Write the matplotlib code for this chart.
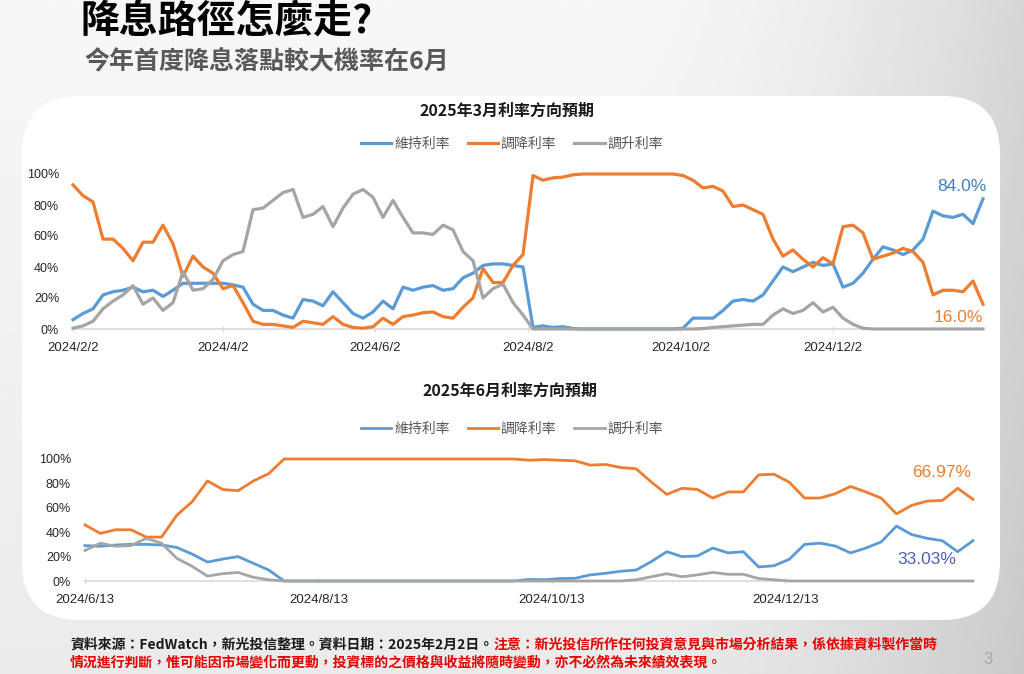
import matplotlib.pyplot as plt
from matplotlib.patches import FancyBboxPatch
import numpy as np
import pandas as pd

#%% DATOS
# 2025年3月 會議 (每4天一點, 2024/2/2 ~ 2025/1/31)
mar_dates = pd.date_range('2024-02-02', periods=92, freq='4D')
mar_hold = [6, 10, 13, 22, 24, 25, 27, 24, 25, 21, 25, 29.5, 29.5, 29.5, 29.5, 29.5, 28.5, 27, 16, 12,
            12, 9, 7, 19, 18, 15, 24, 17, 10, 7, 11,
            18, 13, 27, 25, 27, 28, 25, 26, 33, 36, 41, 42, 42, 41, 40, 1, 2, 1, 1.5, 0.3,
            0, 0, 0, 0, 0, 0, 0, 0, 0, 0, 0.5,
            7, 7, 7, 12, 18, 19, 18, 22, 31, 40, 37, 40, 43, 41, 42, 27, 29.5, 36, 45, 53,
            51, 48, 51, 58, 76, 73, 72, 74, 68, 84.0]
mar_cut = [93, 86, 82, 58, 58, 52, 44, 56, 56, 67, 55, 34, 47, 40, 36, 26, 28, 17, 5, 3,
           3, 2, 1, 5, 4, 3, 8, 3, 1, 0.5, 1.5,
           7, 3, 8, 9, 10.5, 11, 8, 7, 14, 20, 39, 30, 30, 41, 48, 99, 96, 97.5, 98, 99.5,
           100, 100, 100, 100, 100, 100, 100, 100, 100, 100, 99,
           96, 91, 92, 89, 79, 80, 77, 74, 58, 47, 51, 45, 40, 46, 42, 66, 67, 62, 45, 47,
           49, 52, 50, 43, 22, 25, 25, 24, 31, 16.0]
mar_hike = [0.5, 2, 5, 13, 18, 22, 28, 16, 20, 12, 17, 37, 25, 26, 32, 44, 48, 50, 77, 78,
            83, 88, 90, 72, 74, 79, 66, 78, 87, 90, 85,
            72, 83, 72, 62, 62, 61, 67, 64, 50, 44, 20, 26, 29, 17, 9,
            0, 0, 0, 0, 0, 0, 0, 0, 0, 0, 0, 0, 0, 0, 0, 0,
            0, 0.3, 1, 1.5, 2, 2.5, 3, 3, 9, 13, 10, 12, 17, 11, 14, 7, 3, 0.5,
            0, 0, 0, 0, 0, 0, 0, 0, 0, 0, 0, 0]
mar_tick_dates = ['2024-02-02', '2024-04-02', '2024-06-02', '2024-08-02', '2024-10-02', '2024-12-02']
mar_tick_labels = ['2024/2/2', '2024/4/2', '2024/6/2', '2024/8/2', '2024/10/2', '2024/12/2']

# 2025年6月 會議 (每4天一點, 2024/6/13 ~ 2025/1/31)
jun_dates = pd.date_range('2024-06-13', periods=59, freq='4D')
jun_hold = [29, 28.5, 29.5, 30, 30, 29.5, 27.5, 22, 15.5, 18, 20, 14.5, 9,
            0, 0, 0, 0, 0, 0, 0, 0, 0, 0, 0, 0, 0, 0, 0, 0,
            1.3, 1, 2, 2.2, 5, 6.3, 8, 9, 16, 24,
            20, 20.5, 27, 23, 24, 11.5, 12.5, 17.8, 30, 31, 28.7, 23, 27, 32, 45, 38,
            35, 33, 24, 33.03]
jun_cut = [46, 39, 42, 42, 36, 36, 54, 65, 82, 75, 74, 82, 88,
           100, 100, 100, 100, 100, 100, 100, 100, 100, 100, 100, 100, 100, 100, 100, 100,
           99, 99.5, 99, 98.5, 95, 95.5, 93, 92, 81, 71,
           76, 75, 68, 73, 73, 87, 87.5, 81, 68, 68, 71.5, 77.5, 73, 68, 55, 62,
           65.5, 66, 76, 66.97]
jun_hike = [25, 31, 28.5, 29, 35, 31, 18.5, 12, 4, 6, 7, 3, 1,
            0, 0, 0, 0, 0, 0, 0, 0, 0, 0, 0, 0, 0, 0, 0, 0, 0, 0, 0, 0, 0, 0, 0,
            1, 3.5, 6,
            3.5, 5, 7, 5.5, 5.5, 2, 1,
            0, 0, 0, 0, 0, 0, 0, 0, 0, 0, 0, 0, 0]
jun_tick_dates = ['2024-06-13', '2024-08-13', '2024-10-13', '2024-12-13']
jun_tick_labels = ['2024/6/13', '2024/8/13', '2024/10/13', '2024/12/13']

y_ticks = [0, 20, 40, 60, 80, 100]
y_labels = ['0%', '20%', '40%', '60%', '80%', '100%']
series_names = ['維持利率', '調降利率', '調升利率']
colors = ['#5B9BD5', '#ED7D31', '#A5A5A5']

#%% FIGURA
plt.rcParams['font.family'] = ['Noto Sans CJK TC', 'DejaVu Sans']
W, H = 1024, 674
fig = plt.figure(figsize=(W / 100, H / 100), dpi=100)

# fondo de la diapositiva
bg = fig.add_axes([0, 0, 1, 1])
bg.set_xlim(0, W)
bg.set_ylim(H, 0)
bg.axis('off')
xx, yy = np.meshgrid(np.linspace(0, 1, 300), np.linspace(0, 1, 300))
shade = 0.97 - 0.05 * yy - 0.13 * np.clip((xx - 0.6) / 0.4, 0, 1) ** 1.6
bg.imshow(shade, cmap='gray', vmin=0, vmax=1, extent=(0, W, H, 0), aspect='auto', zorder=0)
bg.add_patch(FancyBboxPatch((22, 96), 978, 524, boxstyle='round,pad=0,rounding_size=58',
                            facecolor='white', edgecolor='none', zorder=1))

bg.text(80, 21, '降息路徑怎麼走?', fontsize=28, fontweight='bold', color='black',
        ha='left', va='center', zorder=2)
bg.text(84, 62, '今年首度降息落點較大機率在6月', fontsize=18, fontweight='bold', color='#595959',
        ha='left', va='center', zorder=2)
bg.text(507, 111, '2025年3月利率方向預期', fontsize=11.5, fontweight='bold', color='#1a1a1a',
        ha='center', va='center', zorder=2)
bg.text(510, 391, '2025年6月利率方向預期', fontsize=11.5, fontweight='bold', color='#1a1a1a',
        ha='center', va='center', zorder=2)


def px_axes(l, t, r, b):
    return fig.add_axes([l / W, 1 - b / H, (r - l) / W, (b - t) / H])


def dibujar(ax, dates, series, tick_dates, tick_labels, lw, legend_y):
    lines = []
    for vals, c, name in zip(series, colors, series_names):
        ln, = ax.plot(dates, vals, color=c, lw=lw, label=name, clip_on=False,
                      solid_joinstyle='round')
        lines.append(ln)
    ax.set_xlim(dates[0], dates[-1])
    ax.set_ylim(0, 100)
    ax.set_yticks(y_ticks, labels=y_labels)
    ax.set_xticks(pd.to_datetime(tick_dates), labels=tick_labels)
    for s in ['top', 'right', 'left']:
        ax.spines[s].set_visible(False)
    ax.spines['bottom'].set_color('#d9d9d9')
    ax.spines['bottom'].set_linewidth(1.2)
    ax.spines['bottom'].set_zorder(0)
    ax.tick_params(axis='y', length=0, pad=10, labelsize=9, labelcolor='#262626',
                   labelfontfamily='Liberation Sans')
    ax.tick_params(axis='x', length=5, direction='inout', color='#d9d9d9', pad=7,
                   labelsize=9.5, labelcolor='#262626', labelfontfamily='Liberation Sans')
    ax.patch.set_alpha(0)
    ax.legend(handles=lines, loc='center', bbox_to_anchor=(512 / W, 1 - legend_y / H),
              bbox_transform=fig.transFigure, ncol=3, frameon=False, fontsize=10,
              labelcolor='#595959', handlelength=2.2, handletextpad=0.2, columnspacing=1.3)
    return lines


ax1 = px_axes(73, 174, 983, 329)
dibujar(ax1, mar_dates, [mar_hold, mar_cut, mar_hike], mar_tick_dates, mar_tick_labels, 2.3, 144)
ax1.annotate(f'{mar_hold[-1]:.1f}%', xy=(mar_dates[-1], mar_hold[-1]), xytext=(-21, 12),
             textcoords='offset pixels', ha='center', va='center', fontsize=12.5,
             color='#3f7fc0', family='Liberation Sans')
ax1.annotate(f'{mar_cut[-1]:.1f}%', xy=(mar_dates[-1], mar_cut[-1]), xytext=(-25, -13),
             textcoords='offset pixels', ha='center', va='center', fontsize=12.5,
             color='#ED7D31', family='Liberation Sans')

ax2 = px_axes(85, 459, 973, 581)
dibujar(ax2, jun_dates, [jun_hold, jun_cut, jun_hike], jun_tick_dates, jun_tick_labels, 2.0, 429)
ax2.annotate(f'{jun_cut[-1]:.2f}%', xy=(jun_dates[-1], jun_cut[-1]), xytext=(-31, 27),
             textcoords='offset pixels', ha='center', va='center', fontsize=12.5,
             color='#ED7D31', family='Liberation Sans')
ax2.annotate(f'{jun_hold[-1]:.2f}%', xy=(jun_dates[-1], jun_hold[-1]), xytext=(-46, -19),
             textcoords='offset pixels', ha='center', va='center', fontsize=12.5,
             color='#4f5fb3', family='Liberation Sans')

# pie de pagina
t1 = bg.text(70, 645, '資料來源：FedWatch，新光投信整理。資料日期：2025年2月2日。', fontsize=10,
             fontweight='bold', color='#1a1a1a', ha='left', va='center', zorder=2)
fig.canvas.draw()
x_end = t1.get_window_extent().x1
bg.text(x_end, 645, '注意：新光投信所作任何投資意見與市場分析結果，係依據資料製作當時', fontsize=10,
        fontweight='bold', color='#e60000', ha='left', va='center', zorder=2)
bg.text(70, 663, '情況進行判斷，惟可能因市場變化而更動，投資標的之價格與收益將隨時變動，亦不必然為未來績效表現。',
        fontsize=10, fontweight='bold', color='#e60000', ha='left', va='center', zorder=2)
bg.text(988, 660, '3', fontsize=12, color='#a6a6a6', ha='center', va='center',
        family='Liberation Sans', zorder=2)

fig.savefig('out.png', dpi=100)
